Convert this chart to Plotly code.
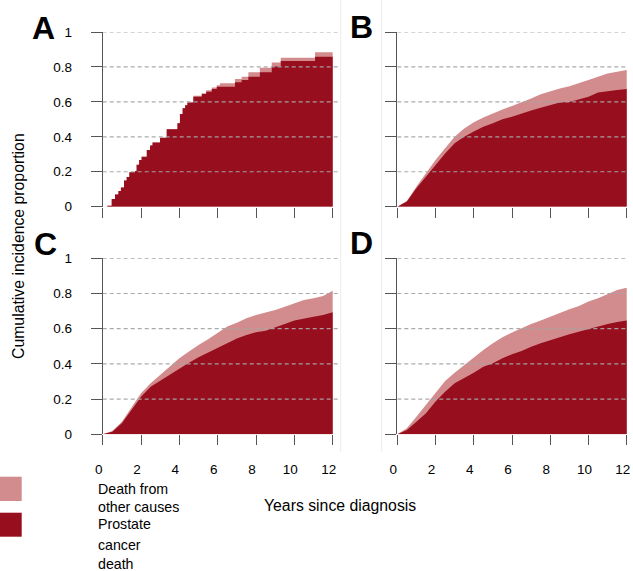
import plotly.graph_objects as go

W, H = 633, 571

# ---------------- data ----------------
tick_years = [0, 2, 4, 6, 8, 10, 12]
y_tick_vals = [0, 0.2, 0.4, 0.6, 0.8, 1.0]
y_tick_text = ["0", "0.2", "0.4", "0.6", "0.8", "1"]

# Panel A: step function (prostate cancer death, all-cause = prostate + other causes)
a_time = [0, 0.24, 0.47, 0.64, 0.82, 0.95, 1.11, 1.25, 1.39, 1.69, 1.77, 1.9, 2.03, 2.3, 2.47,
          2.6, 2.99, 3.34, 3.9, 4.03, 4.17, 4.3, 4.42, 4.73, 5.17, 5.4, 5.69, 5.95, 6.12,
          6.9, 7.25, 7.6, 8.2, 8.82, 9.29, 11.08, 12]
a_prostate = [0.0, 0.006, 0.044, 0.07, 0.09, 0.11, 0.15, 0.17, 0.197, 0.205, 0.24, 0.267, 0.286,
              0.324, 0.35, 0.368, 0.395, 0.443, 0.477, 0.53, 0.563, 0.58, 0.597, 0.63, 0.645,
              0.658, 0.674, 0.687, 0.687, 0.712, 0.725, 0.744, 0.769, 0.802, 0.834, 0.859, 0.859]
a_allcause = [0.0, 0.006, 0.044, 0.07, 0.09, 0.11, 0.15, 0.17, 0.197, 0.205, 0.24, 0.267, 0.286,
              0.324, 0.35, 0.368, 0.395, 0.443, 0.477, 0.53, 0.563, 0.58, 0.597, 0.635, 0.65,
              0.666, 0.682, 0.695, 0.706, 0.731, 0.744, 0.769, 0.796, 0.826, 0.853, 0.884, 0.884]

time_grid = [0, 0.5, 1, 1.5, 2, 2.5, 3, 3.5, 4, 4.5, 5, 5.5, 6, 6.5, 7, 7.5, 8, 8.5, 9,
             9.5, 10, 10.5, 11, 11.5, 12]

b_prostate = [0, 0.03, 0.105, 0.17, 0.24, 0.305, 0.363, 0.40, 0.43, 0.458, 0.477, 0.50, 0.515,
              0.534, 0.55, 0.567, 0.582, 0.597, 0.60, 0.616, 0.63, 0.653, 0.662, 0.668, 0.674]
b_allcause = [0, 0.032, 0.115, 0.19, 0.267, 0.334, 0.40, 0.448, 0.483, 0.51, 0.534, 0.557, 0.576,
              0.60, 0.62, 0.643, 0.662, 0.677, 0.69, 0.706, 0.725, 0.744, 0.763, 0.773, 0.782]

c_prostate = [0, 0.015, 0.063, 0.138, 0.214, 0.27, 0.305, 0.341, 0.375, 0.407, 0.4375, 0.464,
              0.492, 0.52, 0.545, 0.564, 0.58, 0.589, 0.606, 0.627, 0.646, 0.655, 0.668, 0.678, 0.693]
c_allcause = [0, 0.019, 0.072, 0.153, 0.233, 0.29, 0.337, 0.384, 0.432, 0.47, 0.508, 0.54,
              0.578, 0.612, 0.634, 0.659, 0.678, 0.691, 0.706, 0.725, 0.744, 0.763, 0.773, 0.786, 0.816]

d_prostate = [0, 0.025, 0.072, 0.119, 0.186, 0.242, 0.29, 0.318, 0.35, 0.384, 0.403, 0.432,
              0.455, 0.473, 0.498, 0.517, 0.536, 0.551, 0.568, 0.583, 0.597, 0.615, 0.627, 0.638, 0.646]
d_allcause = [0, 0.034, 0.10, 0.167, 0.237, 0.303, 0.35, 0.394, 0.4375, 0.479, 0.517, 0.551,
              0.578, 0.602, 0.627, 0.646, 0.668, 0.6875, 0.71, 0.729, 0.754, 0.773, 0.795, 0.82, 0.833]

panel_letters = ["A", "B", "C", "D"]
legend_other = ["Death from", "other causes"]
legend_prostate = ["Prostate", "cancer", "death"]

# ---------------- style ----------------
DARK = "#970E1E"
PINK = "#D38C8D"
FONT = "Liberation Sans, Arial, sans-serif"
AXC = "#555555"
GRIDC = "rgba(165,165,165,0.95)"


def px(x):
    return x / W


def py(y):
    return 1 - y / H


fig = go.Figure()

panels = [
    dict(t=a_time, p=a_prostate, a=a_allcause, shape="hv", xr=12.35, xd=(102.7, 339.4), yd=(32, 206.7),
         xlab=False, ylab=True),
    dict(t=time_grid, p=b_prostate, a=b_allcause, shape="linear", xr=12.02, xd=(397.3, 627.1), yd=(32, 206.7),
         xlab=False, ylab=False),
    dict(t=time_grid, p=c_prostate, a=c_allcause, shape="linear", xr=12.35, xd=(102.7, 339.4), yd=(258.3, 434.3),
         xlab=True, ylab=True),
    dict(t=time_grid, p=d_prostate, a=d_allcause, shape="linear", xr=12.02, xd=(397.3, 627.1), yd=(258.3, 434.3),
         xlab=True, ylab=False),
]

layout = dict(
    width=W, height=H, autosize=False, margin=dict(l=0, r=0, t=0, b=0, pad=0),
    paper_bgcolor="white", plot_bgcolor="rgba(0,0,0,0)",
    showlegend=False, font=dict(family=FONT, color="black"),
)
shapes = []
annotations = []

for i, pn in enumerate(panels):
    n = "" if i == 0 else str(i + 1)
    xa, ya = "x" + n, "y" + n
    fig.add_trace(go.Scatter(x=pn["t"], y=pn["a"], mode="lines", line=dict(width=0, shape=pn["shape"]),
                             fill="tozeroy", fillcolor=PINK, xaxis=xa, yaxis=ya,
                             name="Death from other causes", hoverinfo="skip"))
    fig.add_trace(go.Scatter(x=pn["t"], y=pn["p"], mode="lines", line=dict(width=0, shape=pn["shape"]),
                             fill="tozeroy", fillcolor=DARK, xaxis=xa, yaxis=ya,
                             name="Prostate cancer death", hoverinfo="skip"))
    layout["xaxis" + n] = dict(
        domain=[px(pn["xd"][0]), px(pn["xd"][1])], range=[0, pn["xr"]], anchor=ya,
        showgrid=False, zeroline=False, showline=False, automargin=False,
        tickvals=tick_years, ticktext=[str(v) for v in tick_years],
        ticks="outside", ticklen=10, tickcolor=AXC, tickwidth=1,
        showticklabels=pn["xlab"], ticklabelstandoff=12, ticklabelshift=-4,
        ticklabeloverflow="allow",
        tickfont=dict(size=13.5, family=FONT, color="black"), fixedrange=True,
    )
    layout["yaxis" + n] = dict(
        domain=[py(pn["yd"][1]), py(pn["yd"][0])], range=[0, 1], anchor=xa,
        showgrid=False, zeroline=False, showline=True, linecolor=AXC, linewidth=1, automargin=False,
        tickvals=y_tick_vals, ticktext=y_tick_text,
        ticks="outside", ticklen=11, tickcolor=AXC, tickwidth=1,
        showticklabels=pn["ylab"], ticklabelstandoff=16,
        tickfont=dict(size=13.5, family=FONT, color="black"), fixedrange=True,
    )
    for gv in y_tick_vals[1:]:
        shapes.append(dict(type="line", xref=xa, yref=ya, x0=0, x1=pn["xr"] - 0.05, y0=gv, y1=gv,
                           line=dict(color=GRIDC, width=1.2, dash="4px,3px"), layer="above"))

# faint panel separators
for xs in (340.7, 381.7):
    shapes.append(dict(type="line", xref="paper", yref="paper", x0=px(xs), x1=px(xs), y0=py(0), y1=py(452),
                       line=dict(color="#ececec", width=1), layer="below"))

# panel letters
letter_pos = [(43.5, 26.5), (361.7, 26), (45, 243), (361, 241.7)]
for lt, (lx, ly) in zip(panel_letters, letter_pos):
    annotations.append(dict(text="<b>%s</b>" % lt, x=px(lx), y=py(ly + 1), xref="paper", yref="paper",
                            showarrow=False, xanchor="center", yanchor="middle",
                            font=dict(size=32, family=FONT, color="black")))

# axis titles
annotations.append(dict(text="Cumulative incidence proportion", x=px(18.5), y=py(246.5), xref="paper",
                        yref="paper", showarrow=False, textangle=-90, xanchor="center", yanchor="middle",
                        font=dict(size=15.8, family=FONT, color="black")))
annotations.append(dict(text="Years since diagnosis", x=px(340), y=py(505.5), xref="paper", yref="paper",
                        showarrow=False, xanchor="center", yanchor="middle",
                        font=dict(size=15.8, family=FONT, color="black")))

# legend
shapes.append(dict(type="rect", xref="paper", yref="paper", x0=px(0), x1=px(21.7), y0=py(501), y1=py(476.7),
                   fillcolor=PINK, line=dict(width=0)))
shapes.append(dict(type="rect", xref="paper", yref="paper", x0=px(0), x1=px(21.7), y0=py(536.7), y1=py(512.7),
                   fillcolor=DARK, line=dict(width=0)))
for txt, yy in zip(legend_other + legend_prostate, [489, 507, 524, 545, 564]):
    annotations.append(dict(text=txt, x=px(96.5), y=py(yy), xref="paper", yref="paper", showarrow=False,
                            xanchor="left", yanchor="middle", borderpad=0,
                            font=dict(size=14.2, family=FONT, color="black")))

layout["shapes"] = shapes
layout["annotations"] = annotations
fig.update_layout(**layout)

fig.write_html("out.html",
               config={"displayModeBar": False, "staticPlot": True},
               post_script="document.body.style.margin='0px';document.body.style.padding='0px';"
                           "document.body.style.overflow='hidden';")
